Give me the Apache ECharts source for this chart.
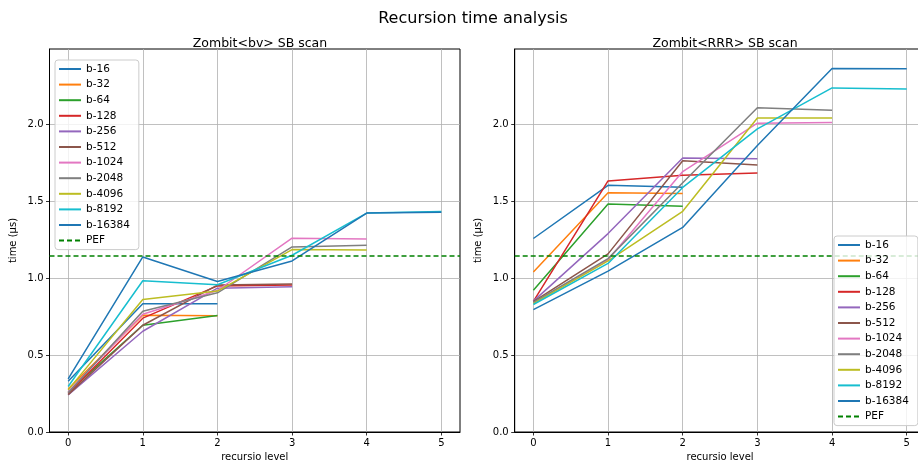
<!DOCTYPE html>
<html><head><meta charset="utf-8">
<script src="https://cdn.jsdelivr.net/npm/echarts@6/dist/echarts.min.js"></script>
<style>html,body{margin:0;padding:0;background:#fff}#c{width:918px;height:464px}</style>
</head><body><div id="c"></div>
<script>
// ---- data ----
const levels = [0, 1, 2, 3, 4, 5];
const yTicks = [0, 0.5, 1.0, 1.5, 2.0];
const seriesNames = ['b-16','b-32','b-64','b-128','b-256','b-512','b-1024','b-2048','b-4096','b-8192','b-16384'];
const pefTime = 1.144;

// Zombit<bv> SB scan
const bv_b16    = [0.330, 0.834, 0.834];
const bv_b32    = [0.279, 0.759, 0.755];
const bv_b64    = [0.260, 0.694, 0.757];
const bv_b128   = [0.250, 0.740, 0.950, 0.955];
const bv_b256   = [0.241, 0.655, 0.935, 0.945];
const bv_b512   = [0.243, 0.694, 0.955, 0.962];
const bv_b1024  = [0.262, 0.765, 0.920, 1.260, 1.255];
const bv_b2048  = [0.255, 0.785, 0.905, 1.203, 1.214];
const bv_b4096  = [0.274, 0.862, 0.916, 1.186, 1.183];
const bv_b8192  = [0.296, 0.983, 0.957, 1.149, 1.423, 1.434];
const bv_b16384 = [0.345, 1.138, 0.978, 1.112, 1.423, 1.428];

// Zombit<RRR> SB scan
const rrr_b16    = [1.258, 1.604, 1.591];
const rrr_b32    = [1.040, 1.556, 1.551];
const rrr_b64    = [0.922, 1.482, 1.468];
const rrr_b128   = [0.849, 1.632, 1.670, 1.684];
const rrr_b256   = [0.851, 1.290, 1.781, 1.777];
const rrr_b512   = [0.848, 1.158, 1.763, 1.736];
const rrr_b1024  = [0.840, 1.120, 1.693, 2.008, 2.012];
const rrr_b2048  = [0.842, 1.127, 1.620, 2.108, 2.091];
const rrr_b4096  = [0.835, 1.112, 1.435, 2.041, 2.041];
const rrr_b8192  = [0.829, 1.096, 1.590, 1.971, 2.237, 2.230];
const rrr_b16384 = [0.796, 1.046, 1.330, 1.862, 2.363, 2.362];

const bvSets  = [bv_b16, bv_b32, bv_b64, bv_b128, bv_b256, bv_b512, bv_b1024, bv_b2048, bv_b4096, bv_b8192, bv_b16384];
const rrrSets = [rrr_b16, rrr_b32, rrr_b64, rrr_b128, rrr_b256, rrr_b512, rrr_b1024, rrr_b2048, rrr_b4096, rrr_b8192, rrr_b16384];

// ---- styling ----
const colors = ['#1f77b4','#ff7f0e','#2ca02c','#d62728','#9467bd','#8c564b','#e377c2','#7f7f7f','#bcbd22','#17becf','#1f77b4'];
const FONT = 'DejaVu Sans';
const X_MIN = -0.25, X_MAX = 5.25, Y_MAX = 2.49;

function xAxis(gi) {
  return {
    type: 'value', gridIndex: gi, min: X_MIN, max: X_MAX,
    name: 'recursio level', nameLocation: 'middle', nameGap: 20,
    nameTextStyle: { fontFamily: FONT, fontSize: 10, color: '#000' },
    axisLine: { show: true, onZero: false, lineStyle: { color: '#000', width: 1 } },
    axisTick: { show: true, customValues: levels, length: 3.5, lineStyle: { color: '#000', width: 0.8 } },
    axisLabel: { customValues: levels, fontFamily: FONT, fontSize: 10, color: '#000', margin: 6 },
    splitLine: { show: true, lineStyle: { color: '#b0b0b0', width: 0.8 } }
  };
}
function yAxis(gi) {
  return {
    type: 'value', gridIndex: gi, min: 0, max: Y_MAX,
    name: 'time (µs)', nameLocation: 'middle', nameGap: 31,
    nameTextStyle: { fontFamily: FONT, fontSize: 10, color: '#000' },
    axisLine: { show: true, onZero: false, lineStyle: { color: '#000', width: 1 } },
    axisTick: { show: true, customValues: yTicks, length: 3.5, lineStyle: { color: '#000', width: 0.8 } },
    axisLabel: { customValues: yTicks, fontFamily: FONT, fontSize: 10, color: '#000', margin: 6,
                 formatter: v => v.toFixed(1) },
    splitLine: { show: true, lineStyle: { color: '#b0b0b0', width: 0.8 } }
  };
}

const series = [];
[bvSets, rrrSets].forEach((sets, gi) => {
  sets.forEach((vals, i) => {
    series.push({
      type: 'line', name: seriesNames[i], xAxisIndex: gi, yAxisIndex: gi,
      data: vals.map((v, k) => [levels[k], v]),
      symbol: 'none', color: colors[i],
      lineStyle: { width: 1.5, color: colors[i] }
    });
  });
  series.push({
    type: 'line', name: 'PEF', xAxisIndex: gi, yAxisIndex: gi,
    data: [[X_MIN, pefTime], [X_MAX, pefTime]],
    symbol: 'none', color: '#008000',
    lineStyle: { width: 1.5, type: [5, 3], color: '#008000' }
  });
});

const legendNames = seriesNames.concat(['PEF']);
function legend(left, top) {
  return {
    orient: 'vertical', left: left, top: top, data: legendNames,
    itemWidth: 22, itemHeight: 12, itemGap: 3.6,
    itemStyle: { opacity: 0 },
    textStyle: { fontFamily: FONT, fontSize: 10.5, color: '#000', lineHeight: 12 },
    backgroundColor: 'rgba(255,255,255,0.8)', borderColor: '#cccccc', borderWidth: 1, borderRadius: 3,
    padding: [3, 9, 3, 3], selectedMode: false
  };
}

const chart = echarts.init(document.getElementById('c'), null, { renderer: 'canvas' });
chart.setOption({
  animation: false,
  backgroundColor: '#fff',
  title: [
    { text: 'Recursion time analysis', left: 468, top: 6, textAlign: 'center',
      textStyle: { fontFamily: FONT, fontSize: 16, fontWeight: 'normal', color: '#000' } },
    { text: 'Zombit<bv> SB scan', left: 255, top: 32, textAlign: 'center',
      textStyle: { fontFamily: FONT, fontSize: 12.5, fontWeight: 'normal', color: '#000' } },
    { text: 'Zombit<RRR> SB scan', left: 720, top: 32, textAlign: 'center',
      textStyle: { fontFamily: FONT, fontSize: 12.5, fontWeight: 'normal', color: '#000' } }
  ],
  grid: [
    { left: 49.5, right: 458, top: 49, bottom: 32, show: true, borderColor: '#000', borderWidth: 1,
      backgroundColor: 'transparent', outerBoundsMode: 'none' },
    { left: 514.7, right: -7.4, top: 49, bottom: 32, show: true, borderColor: '#000', borderWidth: 1,
      backgroundColor: 'transparent', outerBoundsMode: 'none' }
  ],
  xAxis: [xAxis(0), xAxis(1)],
  yAxis: [yAxis(0), yAxis(1)],
  legend: [legend(55, 60), legend(834, 236)],
  series: series
});
</script>
</body></html>
